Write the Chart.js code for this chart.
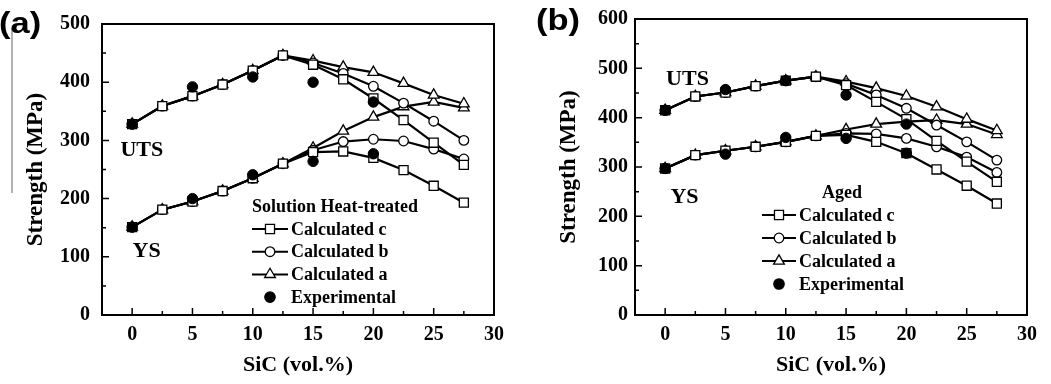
<!DOCTYPE html>
<html>
<head>
<meta charset="utf-8">
<script src="https://cdn.jsdelivr.net/npm/chart.js@4.4.1/dist/chart.umd.min.js"></script>
<style>
  html, body { margin: 0; padding: 0; background: #fff; }
  #wrap { position: relative; width: 1051px; height: 384px; overflow: hidden; }
  .panel { position: absolute; top: 0; height: 384px; }
  #panelA { left: 0; width: 525px; }
  #panelB { left: 525px; width: 526px; }
</style>
</head>
<body>
<div id="wrap">
  <div class="panel" id="panelA"><canvas id="chartA"></canvas></div>
  <div class="panel" id="panelB"><canvas id="chartB"></canvas></div>
</div>
<script>
// SiC content (vol.%)
const sic = [0, 2.5, 5, 7.5, 10, 12.5, 15, 17.5, 20, 22.5, 25, 27.5];
const expSic = [0, 5, 10, 15, 20];

const xTicks = [0, 5, 10, 15, 20, 25, 30];
const yTicksA = [0, 100, 200, 300, 400, 500];
const yTicksB = [0, 100, 200, 300, 400, 500, 600];

// (a) Solution heat-treated
const shUtsA = [328, 359, 376, 396, 420, 446, 437, 426, 417, 398, 378, 363];
const shUtsB = [328, 359, 376, 396, 420, 446, 433, 415, 393, 364, 333, 300];
const shUtsC = [328, 359, 376, 396, 420, 446, 430, 405, 372, 335, 296, 258];
const shYsA = [151, 181, 195, 213, 235, 260, 287, 316, 340, 358, 366, 356];
const shYsB = [151, 181, 195, 213, 235, 260, 283, 298, 302, 299, 285, 268];
const shYsC = [151, 181, 195, 213, 235, 260, 280, 281, 270, 249, 222, 193];
const shExpUts = [328, 392, 409, 400, 366];
const shExpYs = [151, 200, 241, 264, 277];

// (b) Aged
const agUtsA = [415, 443, 451, 464, 475, 483, 473, 460, 444, 422, 397, 374];
const agUtsB = [415, 443, 451, 464, 475, 483, 469, 446, 419, 385, 351, 314];
const agUtsC = [415, 443, 451, 464, 475, 483, 466, 432, 397, 353, 311, 270];
const agYsA = [297, 324, 333, 341, 351, 363, 376, 387, 392, 395, 387, 366];
const agYsB = [297, 324, 333, 341, 351, 363, 368, 367, 358, 341, 320, 289];
const agYsC = [297, 324, 333, 341, 351, 363, 365, 351, 328, 295, 262, 226];
const agExpUts = [415, 457, 475, 446, 387];
const agExpYs = [297, 326, 360, 358, 328];

const serif = "'Liberation Serif', 'Times New Roman', serif";
const sans = "'Liberation Sans', Arial, sans-serif";

const markers = {
  c: { pointStyle: 'rect', radius: 6.4, fill: '#fff' },
  b: { pointStyle: 'circle', radius: 4.8, fill: '#fff' },
  a: { pointStyle: 'triangle', radius: 6.2, fill: '#fff' },
  exp: { pointStyle: 'circle', radius: 5.2, fill: '#000' },
};

function pts(xs, ys) {
  return xs.map((x, i) => ({ x: x, y: ys[i] }));
}

function calcSet(ys, kind) {
  const m = markers[kind];
  return {
    data: pts(sic, ys),
    borderColor: '#000',
    borderWidth: 2.2,
    tension: 0,
    pointStyle: m.pointStyle,
    pointRadius: m.radius,
    pointBackgroundColor: m.fill,
    pointBorderColor: '#000',
    pointBorderWidth: 1.3,
    order: 1,
  };
}

function expSet(ys) {
  const m = markers.exp;
  return {
    data: pts(expSic, ys),
    showLine: false,
    borderColor: '#000',
    pointStyle: m.pointStyle,
    pointRadius: m.radius,
    pointBackgroundColor: m.fill,
    pointBorderColor: '#000',
    pointBorderWidth: 1,
    order: 0,
  };
}

function drawMarker(ctx, kind, x, y) {
  const m = markers[kind];
  ctx.fillStyle = m.fill;
  ctx.strokeStyle = '#000';
  ctx.lineWidth = 1.3;
  Chart.helpers.drawPoint(ctx, { pointStyle: m.pointStyle, radius: m.radius, rotation: 0, borderWidth: 1.3 }, x, y);
}

// рамка, засечки внутрь, подписи и легенда
function decor(cfg) {
  return {
    id: 'decor',
    beforeDatasetsDraw(chart) {
      const { ctx, chartArea: a, scales: { x, y } } = chart;
      ctx.save();
      ctx.strokeStyle = '#000';
      ctx.lineWidth = 2;
      ctx.strokeRect(a.left, a.top, a.right - a.left, a.bottom - a.top);
      ctx.lineWidth = 1.5;
      ctx.beginPath();
      x.ticks.forEach((t) => {
        if (t.value >= 30) return;
        const px = x.getPixelForValue(t.value);
        ctx.moveTo(px, a.bottom);
        ctx.lineTo(px, a.bottom - 7);
        const pm = x.getPixelForValue(t.value + 2.5);
        ctx.moveTo(pm, a.bottom);
        ctx.lineTo(pm, a.bottom - 4);
      });
      y.ticks.forEach((t) => {
        if (t.value >= y.max) return;
        const py = y.getPixelForValue(t.value);
        ctx.moveTo(a.left, py);
        ctx.lineTo(a.left + 7, py);
        const pm = y.getPixelForValue(t.value + 50);
        ctx.moveTo(a.left, pm);
        ctx.lineTo(a.left + 4, pm);
      });
      ctx.stroke();
      ctx.restore();
    },
    afterDraw(chart) {
      const { ctx, chartArea: a, scales: { x, y } } = chart;
      ctx.save();
      ctx.fillStyle = '#000';

      if (cfg.rule) {
        ctx.strokeStyle = '#666';
        ctx.lineWidth = 1;
        ctx.beginPath();
        ctx.moveTo(cfg.rule.x, cfg.rule.y1);
        ctx.lineTo(cfg.rule.x, cfg.rule.y2);
        ctx.stroke();
      }

      // метка панели чуть растянута по ширине, как в оригинале
      ctx.save();
      ctx.translate(cfg.labelX, cfg.labelY);
      ctx.scale(1.15, 1);
      ctx.font = `bold 30px ${sans}`;
      ctx.textAlign = 'left';
      ctx.textBaseline = 'alphabetic';
      ctx.fillText(cfg.label, 0, 0);
      ctx.restore();

      ctx.textAlign = 'center';
      ctx.textBaseline = 'middle';
      ctx.font = `bold 22px ${serif}`;
      ctx.fillText('SiC (vol.%)', (a.left + a.right) / 2, 365);

      ctx.save();
      ctx.translate(cfg.yTitleX, (a.top + a.bottom) / 2);
      ctx.rotate(-Math.PI / 2);
      ctx.font = `bold 23px ${serif}`;
      ctx.fillText('Strength (MPa)', 0, 0);
      ctx.restore();

      ctx.font = `bold 22px ${serif}`;
      cfg.notes.forEach((n) => {
        ctx.fillText(n.text, x.getPixelForValue(n.x), y.getPixelForValue(n.y));
      });

      const lg = cfg.legend;
      ctx.font = `bold 18px ${serif}`;
      ctx.fillText(lg.title, lg.titleX, lg.titleY);
      ctx.textAlign = 'left';
      lg.items.forEach((it, i) => {
        const yy = lg.top + i * lg.step;
        if (it.kind !== 'exp') {
          ctx.strokeStyle = '#000';
          ctx.lineWidth = 2;
          ctx.beginPath();
          ctx.moveTo(lg.x0, yy);
          ctx.lineTo(lg.x1, yy);
          ctx.stroke();
        }
        drawMarker(ctx, it.kind, (lg.x0 + lg.x1) / 2, yy);
        ctx.fillStyle = '#000';
        ctx.fillText(it.text, lg.textX, yy + 1);
      });
      ctx.restore();
    },
  };
}

function makeChart(id, series, yMax, yTicks, layout, cfg) {
  const ctx = document.getElementById(id).getContext('2d');
  return new Chart(ctx, {
    type: 'line',
    data: {
      datasets: [
        expSet(series.expUts),
        expSet(series.expYs),
        calcSet(series.utsC, 'c'),
        calcSet(series.ysC, 'c'),
        calcSet(series.utsB, 'b'),
        calcSet(series.ysB, 'b'),
        calcSet(series.utsA, 'a'),
        calcSet(series.ysA, 'a'),
      ],
    },
    options: {
      responsive: true,
      maintainAspectRatio: false,
      animation: false,
      events: [],
      layout: { padding: { top: layout.top, right: layout.right, left: 0, bottom: 0 } },
      plugins: { legend: { display: false }, tooltip: { enabled: false } },
      scales: {
        x: {
          type: 'linear',
          min: -2.5,
          max: 30,
          grid: { display: false, drawTicks: false },
          border: { display: false },
          afterBuildTicks: (s) => { s.ticks = xTicks.map((v) => ({ value: v })); },
          afterFit: (s) => { s.height = 69; },
          ticks: { color: '#000', padding: 8, maxRotation: 0, font: { family: serif, size: 20, weight: 'bold' } },
        },
        y: {
          type: 'linear',
          min: 0,
          max: yMax,
          grid: { display: false, drawTicks: false },
          border: { display: false },
          afterBuildTicks: (s) => { s.ticks = yTicks.map((v) => ({ value: v })); },
          afterFit: (s) => { s.width = layout.yWidth; },
          ticks: { color: '#000', padding: layout.yPad, font: { family: serif, size: 20, weight: 'bold' } },
        },
      },
    },
    plugins: [decor(cfg)],
  });
}

makeChart('chartA',
  { utsA: shUtsA, utsB: shUtsB, utsC: shUtsC, ysA: shYsA, ysB: shYsB, ysC: shYsC, expUts: shExpUts, expYs: shExpYs },
  500, yTicksA,
  { top: 20, right: 31, yWidth: 102, yPad: 12 },
  {
    label: '(a)', labelX: -1, labelY: 33,
    yTitleX: 36,
    rule: { x: 12, y1: 28, y2: 193 },
    notes: [
      { text: 'UTS', x: 0.8, y: 283 },
      { text: 'YS', x: 1.2, y: 110 },
    ],
    legend: {
      title: 'Solution Heat-treated', titleX: 335, titleY: 207,
      x0: 252, x1: 288, textX: 291, top: 229, step: 22.7,
      items: [
        { kind: 'c', text: 'Calculated c' },
        { kind: 'b', text: 'Calculated b' },
        { kind: 'a', text: 'Calculated a' },
        { kind: 'exp', text: 'Experimental' },
      ],
    },
  });

makeChart('chartB',
  { utsA: agUtsA, utsB: agUtsB, utsC: agUtsC, ysA: agYsA, ysB: agYsB, ysC: agYsC, expUts: agExpUts, expYs: agExpYs },
  600, yTicksB,
  { top: 19, right: 24, yWidth: 110, yPad: 7 },
  {
    label: '(b)', labelX: 11, labelY: 30,
    yTitleX: 44,
    notes: [
      { text: 'UTS', x: 1.85, y: 478 },
      { text: 'YS', x: 1.6, y: 239 },
    ],
    legend: {
      title: 'Aged', titleX: 317, titleY: 193,
      x0: 237, x1: 271, textX: 274, top: 215, step: 23,
      items: [
        { kind: 'c', text: 'Calculated c' },
        { kind: 'b', text: 'Calculated b' },
        { kind: 'a', text: 'Calculated a' },
        { kind: 'exp', text: 'Experimental' },
      ],
    },
  });
</script>
</body>
</html>
